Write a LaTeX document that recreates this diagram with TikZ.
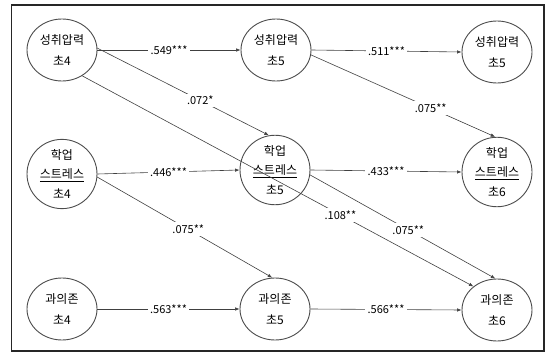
\documentclass[tikz,border=0pt]{standalone}
\usepackage{fontspec}
\setmainfont{Noto Sans CJK KR}
\usetikzlibrary{shapes.geometric,arrows.meta}
\begin{document}
\begin{tikzpicture}[x=1pt,y=-1pt,
  var/.style={ellipse, draw=black!70, line width=0.9pt, minimum width=70pt, minimum height=62pt, inner sep=0pt, align=center, font=\fontsize{12}{21}\selectfont},
  var3/.style={var, font=\fontsize{12}{19.5}\selectfont},
  conn/.style={draw=black!75, line width=0.6pt, -{Latex[length=4.5pt,width=3.5pt]}},
  coef/.style={fill=white, inner sep=2.5pt, font=\fontsize{11}{12}\selectfont}]
\useasboundingbox (0,0) rectangle (550,353);
\draw[line width=1.3pt, black!85] (11.5,5) rectangle (544,351);

\node[var] (A4) at (62,50) {성취압력\\초4};
\node[var] (A5) at (276,50) {성취압력\\초5};
\node[var] (A6) at (497,52) {성취압력\\초5};
\node[var3] (S4) at (62,174) {학업\\\underline{스트레스}\\초4};
\node[var3] (S5) at (275,170) {학업\\\underline{스트레스}\\초5};
\node[var3] (S6) at (497,172) {학업\\\underline{스트레스}\\초6};
\node[var] (D4) at (62,309) {과의존\\초4};
\node[var] (D5) at (275,309) {과의존\\초5};
\node[var] (D6) at (497,310) {과의존\\초6};

\draw[conn] (A4.east) -- node[coef]{.549***} (A5.west);
\draw[conn] (A5.east) -- node[coef]{.511***} (A6.west);
\draw[conn] (S4.east) -- node[coef]{.446***} (S5.west);
\draw[conn] (S5.east) -- node[coef]{.433***} (S6.west);
\draw[conn] (D4.east) -- node[coef]{.563***} (D5.west);
\draw[conn] (D5.east) -- node[coef]{.566***} (D6.west);

\draw[conn] (A4.3) -- node[coef,pos=0.6]{.072*} (S5.100);
\draw[conn] (A4.-52) -- node[coef,pos=0.66]{.108**} (D6.135);
\draw[conn] (A5.-8) -- node[coef,pos=0.65]{.075**} (S6.93);
\draw[conn] (S4.-5) -- node[coef,pos=0.52]{.075**} (D5.95);
\draw[conn] (S5.-8) -- node[coef,pos=0.53]{.075**} (D6.93);
\end{tikzpicture}
\end{document}
